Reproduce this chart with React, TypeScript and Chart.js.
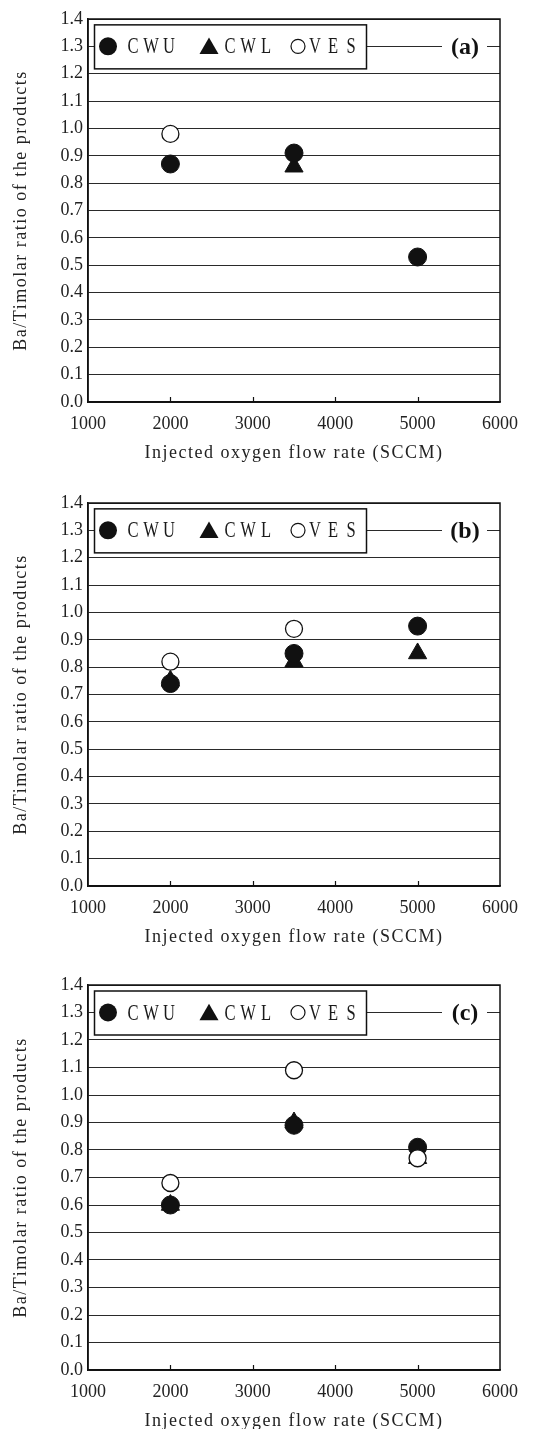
import React, { useEffect, useRef } from 'react';
import { Chart, registerables } from 'chart.js';

Chart.register(...registerables);

// Oxygen flow rates where samples were taken (SCCM)
const flowRates = [2000, 3500, 5000];
const xTickValues = [1000, 2000, 3000, 4000, 5000, 6000];
const yTickValues = [0.0, 0.1, 0.2, 0.3, 0.4, 0.5, 0.6, 0.7, 0.8, 0.9, 1.0, 1.1, 1.2, 1.3, 1.4];
const seriesNames = ['CWU', 'CWL', 'VES'];
const panelTags = ['(a)', '(b)', '(c)'];
const yTitle = 'Ba/Timolar ratio of the products';
const xTitle = 'Injected oxygen flow rate (SCCM)';

// Panel (a)
const cwuA = [0.87, 0.91, 0.53];
const cwlA = [null, 0.86, null];
const vesA = [0.98, null, null];

// Panel (b)
const cwuB = [0.74, 0.85, 0.95];
const cwlB = [0.75, 0.82, 0.85];
const vesB = [0.82, 0.94, null];

// Panel (c)
const cwuC = [0.6, 0.89, 0.81];
const cwlC = [0.6, 0.9, 0.77];
const vesC = [0.68, 1.09, 0.77];

const SERIF = '"Liberation Serif", "Times New Roman", serif';
const INK = '#111';

type Series = (number | null)[];

const toPoints = (vals: Series) =>
  flowRates
    .map((x, i) => ({ x, y: vals[i] }))
    .filter((p) => p.y !== null) as { x: number; y: number }[];

// Draws the frame, inward x ticks, the boxed legend and the panel tag
const panelDecor = {
  id: 'panelDecor',
  afterDraw(chart: any, _args: any, opts: any) {
    const { ctx, chartArea: a, scales } = chart;
    const xs = scales.x;
    const ys = scales.y;
    ctx.save();

    // full frame around the plot area
    ctx.strokeStyle = INK;
    ctx.lineWidth = 1.5;
    ctx.strokeRect(a.left, a.top, a.right - a.left, a.bottom - a.top);

    // short inward ticks on the x axis
    ctx.lineWidth = 1.2;
    xTickValues.slice(1, -1).forEach((v) => {
      const px = Math.round(xs.getPixelForValue(v)) + 0.5;
      ctx.beginPath();
      ctx.moveTo(px, a.bottom);
      ctx.lineTo(px, a.bottom - 5);
      ctx.stroke();
    });

    // legend box
    const cy = ys.getPixelForValue(1.3);
    const bx = a.left + 6;
    const bw = 272;
    const bh = 44;
    const by = cy - bh / 2;
    ctx.fillStyle = '#fff';
    ctx.fillRect(bx, by, bw, bh);
    ctx.strokeStyle = INK;
    ctx.lineWidth = 1.5;
    ctx.strokeRect(bx + 0.5, by + 0.5, bw, bh);

    const markerX = [14, 115, 204];
    const textX = [39, 136, 221];
    const pitch = 18;
    seriesNames.forEach((name, i) => {
      const mx = bx + markerX[i];
      ctx.fillStyle = INK;
      ctx.strokeStyle = INK;
      ctx.beginPath();
      if (i === 0) {
        ctx.arc(mx, cy, 9, 0, Math.PI * 2);
        ctx.fill();
      } else if (i === 1) {
        const r = 11;
        ctx.moveTo(mx, cy - r * 0.8);
        ctx.lineTo(mx + r * 0.866, cy + r * 0.7);
        ctx.lineTo(mx - r * 0.866, cy + r * 0.7);
        ctx.closePath();
        ctx.fill();
      } else {
        ctx.lineWidth = 1.2;
        ctx.arc(mx, cy, 7, 0, Math.PI * 2);
        ctx.stroke();
      }
      ctx.font = `23px ${SERIF}`;
      ctx.textAlign = 'center';
      ctx.textBaseline = 'middle';
      ctx.fillStyle = '#1a1a1a';
      name.split('').forEach((ch, k) => {
        const tx = bx + textX[i] + k * pitch;
        ctx.save();
        ctx.translate(tx, cy + 1);
        ctx.scale(0.72, 1);
        ctx.fillText(ch, 0, 0);
        ctx.restore();
      });
    });

    // panel tag with a white gap in the 1.3 gridline
    ctx.fillStyle = '#fff';
    ctx.fillRect(a.right - 58, cy - 13, 45, 26);
    ctx.fillStyle = INK;
    ctx.font = `bold 24px ${SERIF}`;
    ctx.textAlign = 'center';
    ctx.textBaseline = 'middle';
    ctx.fillText(opts.tag, a.right - 35, cy + 1);

    ctx.restore();
  },
};

// Axis titles are set with slightly open letter spacing
const spacedTitles = {
  id: 'spacedTitles',
  beforeDraw(chart: any) {
    Object.values(chart.scales).forEach((scale: any) => {
      if (scale.__spaced) return;
      const orig = scale.drawTitle.bind(scale);
      scale.drawTitle = (...args: any[]) => {
        const ctx = scale.ctx;
        ctx.save();
        ctx.letterSpacing = '1.5px';
        orig(...args);
        ctx.restore();
      };
      scale.__spaced = true;
    });
  },
};

type PanelProps = {
  tag: string;
  cwu: Series;
  cwl: Series;
  ves: Series;
  top: number;
  height: number;
  padTop: number;
  padBottom: number;
};

function Panel({ tag, cwu, cwl, ves, top, height, padTop, padBottom }: PanelProps) {
  const ref = useRef<HTMLCanvasElement | null>(null);

  useEffect(() => {
    if (!ref.current) return;
    const chart = new Chart(ref.current, {
      type: 'scatter',
      data: {
        datasets: [
          {
            label: seriesNames[0],
            data: toPoints(cwu),
            pointStyle: 'circle',
            pointRadius: 9,
            backgroundColor: INK,
            borderColor: INK,
            borderWidth: 1,
            order: 1,
          },
          {
            label: seriesNames[1],
            data: toPoints(cwl),
            pointStyle: 'triangle',
            pointRadius: 10.5,
            backgroundColor: INK,
            borderColor: INK,
            borderWidth: 1,
            order: 2,
          },
          {
            label: seriesNames[2],
            data: toPoints(ves),
            pointStyle: 'circle',
            pointRadius: 8.5,
            backgroundColor: '#fff',
            borderColor: INK,
            borderWidth: 1.3,
            order: 0,
          },
        ],
      },
      options: {
        responsive: false,
        animation: false,
        devicePixelRatio: 1,
        layout: {
          autoPadding: false,
          padding: { top: padTop, bottom: padBottom, left: 0, right: 43 },
        },
        plugins: {
          legend: { display: false },
          tooltip: { enabled: false },
          panelDecor: { tag },
        } as any,
        scales: {
          x: {
            type: 'linear',
            min: 1000,
            max: 6000,
            afterBuildTicks: (s: any) => {
              s.ticks = xTickValues.map((value) => ({ value }));
            },
            afterFit: (s: any) => {
              s.height = 62;
            },
            ticks: {
              font: { family: SERIF, size: 18 },
              color: '#222',
              padding: 11,
              maxRotation: 0,
              callback: (v: any) => String(v),
            },
            grid: { drawOnChartArea: false, drawTicks: false },
            border: { display: true, color: INK, width: 1.5 },
            title: {
              display: true,
              text: xTitle,
              font: { family: SERIF, size: 18 },
              color: '#222',
              padding: { top: 0, bottom: 0 },
            },
          },
          y: {
            type: 'linear',
            min: 0,
            max: 1.4,
            afterBuildTicks: (s: any) => {
              s.ticks = yTickValues.map((value) => ({ value }));
            },
            afterFit: (s: any) => {
              s.width = 88;
            },
            ticks: {
              font: { family: SERIF, size: 18 },
              color: '#222',
              padding: 5,
              callback: (v: any) => Number(v).toFixed(1),
            },
            grid: { color: '#2a2a2a', lineWidth: 1, drawTicks: false },
            border: { display: true, color: INK, width: 1.5 },
            title: {
              display: true,
              text: yTitle,
              font: { family: SERIF, size: 18 },
              color: '#222',
              padding: { top: 10, bottom: 0 },
            },
          },
        },
      },
      plugins: [panelDecor, spacedTitles],
    });
    return () => chart.destroy();
  }, [tag, cwu, cwl, ves, padTop, padBottom]);

  return (
    <canvas
      ref={ref}
      width={543}
      height={height}
      style={{ position: 'absolute', left: 0, top, width: 543, height, display: 'block' }}
    />
  );
}

export default function App() {
  return (
    <div
      style={{
        position: 'absolute',
        left: 0,
        top: 0,
        width: 543,
        height: 1429,
        overflow: 'hidden',
        background: '#fff',
      }}
    >
      <Panel tag={panelTags[0]} cwu={cwuA} cwl={cwlA} ves={vesA} top={0} height={470} padTop={19} padBottom={6} />
      <Panel tag={panelTags[1]} cwu={cwuB} cwl={cwlB} ves={vesB} top={484} height={470} padTop={19} padBottom={6} />
      <Panel tag={panelTags[2]} cwu={cwuC} cwl={cwlC} ves={vesC} top={966} height={470} padTop={19} padBottom={4} />
    </div>
  );
}
